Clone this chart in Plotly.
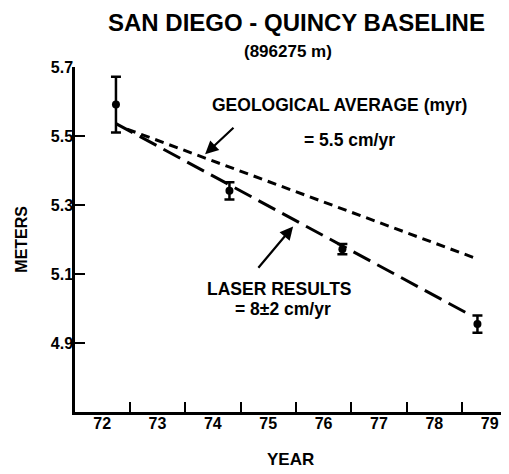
import plotly.graph_objects as go

# ---- data ----
years = [72.25, 74.30, 76.34, 78.78]
meters = [5.591, 5.341, 5.172, 4.955]
errors = [0.081, 0.025, 0.015, 0.025]

laser_fit_x = [72.25, 78.62]
laser_fit_y = [5.536, 4.984]

geo_x = [72.45, 78.79]
geo_y = [5.52, 5.143]

x_tick_vals = [72, 73, 74, 75, 76, 77, 78, 79]
x_tick_text = ["72", "73", "74", "75", "76", "77", "78", "79"]
y_tick_vals = [4.9, 5.1, 5.3, 5.5, 5.7]
y_tick_text = ["4.9", "5.1", "5.3", "5.5", "5.7"]

FONT = "Liberation Sans"

fig = go.Figure()

fig.add_trace(go.Scatter(
    x=geo_x, y=geo_y, mode="lines",
    line=dict(color="black", width=3, dash="9px,6px"),
    showlegend=False, hoverinfo="skip"))

fig.add_trace(go.Scatter(
    x=laser_fit_x, y=laser_fit_y, mode="lines",
    line=dict(color="black", width=3, dash="19px,8px"),
    showlegend=False, hoverinfo="skip"))

fig.add_trace(go.Scatter(
    x=years, y=meters, mode="markers",
    marker=dict(color="black", size=8),
    error_y=dict(type="data", array=errors, visible=True,
                 color="black", thickness=2.5, width=5),
    showlegend=False))


def bf(size):
    return dict(family=FONT, color="black", size=size, weight="bold")


ann_font = bf(17.5)

annotations = [
    dict(text="SAN DIEGO - QUINCY BASELINE", xref="paper", yref="paper",
         x=0.511, y=1.13, xanchor="center", yanchor="middle",
         showarrow=False, font=bf(24)),
    dict(text="(896275 m)", xref="paper", yref="paper",
         x=0.491, y=1.044, xanchor="center", yanchor="middle",
         showarrow=False, font=bf(17)),
    dict(text="GEOLOGICAL AVERAGE (myr)", xref="x", yref="y",
         x=76.28, y=5.591, xanchor="center", yanchor="middle",
         showarrow=False, font=ann_font),
    dict(text="= 5.5 cm/yr", xref="x", yref="y",
         x=76.46, y=5.487, xanchor="center", yanchor="middle",
         showarrow=False, font=ann_font),
    dict(text="LASER RESULTS", xref="x", yref="y",
         x=75.20, y=5.056, xanchor="center", yanchor="middle",
         showarrow=False, font=ann_font),
    dict(text="= 8±2 cm/yr", xref="x", yref="y",
         x=75.27, y=4.998, xanchor="center", yanchor="middle",
         showarrow=False, font=ann_font),
    # arrows
    dict(text="", xref="x", yref="y", axref="x", ayref="y",
         x=73.86, y=5.447, ax=74.40, ay=5.528, showarrow=True,
         arrowhead=2, arrowsize=1.2, arrowwidth=2.2, arrowcolor="black"),
    dict(text="", xref="x", yref="y", axref="x", ayref="y",
         x=75.45, y=5.238, ax=74.80, ay=5.114, showarrow=True,
         arrowhead=2, arrowsize=1.2, arrowwidth=2.2, arrowcolor="black"),
    dict(text="METERS", xref="paper", yref="paper",
         x=-0.124, y=0.50, xanchor="center", yanchor="middle",
         textangle=-90, showarrow=False, font=bf(16)),
    dict(text="YEAR", xref="paper", yref="paper",
         x=0.496, y=-0.139, xanchor="center", yanchor="middle",
         showarrow=False, font=bf(17)),
]

fig.update_layout(
    width=501, height=466,
    margin=dict(l=67, r=0, t=59, b=62),
    paper_bgcolor="white", plot_bgcolor="white",
    showlegend=False,
    annotations=annotations,
    xaxis=dict(
        range=[71.51, 79.35],
        tickvals=x_tick_vals, ticktext=x_tick_text,
        ticks="", ticklen=0,
        minor=dict(ticks="inside", tick0=72.5, dtick=1, ticklen=10,
                   tickwidth=2, tickcolor="black", showgrid=False),
        showline=True, linecolor="black", linewidth=2.5,
        showgrid=False, zeroline=False,
        ticklabelstandoff=-5,
        tickfont=bf(16),
    ),
    yaxis=dict(
        range=[4.70, 5.70],
        tickvals=y_tick_vals, ticktext=y_tick_text,
        ticks="inside", ticklen=10, tickwidth=2, tickcolor="black",
        showline=True, linecolor="black", linewidth=2.5,
        showgrid=False, zeroline=False,
        ticklabelstandoff=-4,
        tickfont=bf(16),
    ),
)

fig.write_html("out.html")
